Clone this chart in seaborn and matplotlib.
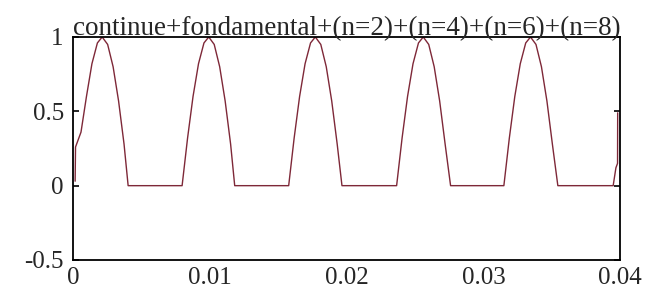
import numpy as np
import pandas as pd
import seaborn as sns
import matplotlib
matplotlib.use("Agg")
import matplotlib.pyplot as plt

# values
t = [0.00012, 0.00015, 0.00055, 0.00095, 0.00135, 0.00175, 0.00210, 0.00250, 0.00290, 0.00330, 0.00370, 0.00400,
     0.00795, 0.00835, 0.00875, 0.00915, 0.00955, 0.00990, 0.01030, 0.01070, 0.01110, 0.01150, 0.01180,
     0.01575, 0.01615, 0.01655, 0.01695, 0.01735, 0.01770, 0.01810, 0.01850, 0.01890, 0.01930, 0.01965,
     0.02365, 0.02405, 0.02445, 0.02485, 0.02525, 0.02560, 0.02600, 0.02640, 0.02680, 0.02720, 0.02760,
     0.03150, 0.03190, 0.03230, 0.03270, 0.03310, 0.03345, 0.03385, 0.03425, 0.03465, 0.03505, 0.03545,
     0.03950, 0.03970, 0.03982, 0.03983]
y = [0.03, 0.26, 0.36, 0.60, 0.82, 0.96, 1.00, 0.95, 0.80, 0.57, 0.28, 0.00,
     0.00, 0.32, 0.60, 0.82, 0.96, 1.00, 0.95, 0.80, 0.57, 0.28, 0.00,
     0.00, 0.32, 0.60, 0.82, 0.96, 1.00, 0.95, 0.80, 0.57, 0.28, 0.00,
     0.00, 0.32, 0.60, 0.82, 0.96, 1.00, 0.95, 0.80, 0.57, 0.28, 0.00,
     0.00, 0.32, 0.60, 0.82, 0.96, 1.00, 0.95, 0.80, 0.57, 0.28, 0.00,
     0.00, 0.12, 0.15, 0.49]

xticks = [0, 0.01, 0.02, 0.03, 0.04]
xlabels = ["0", "0.01", "0.02", "0.03", "0.04"]
yticks = [-0.5, 0, 0.5, 1]
ylabels = ["-0.5", "0", "0.5", "1"]
title = "continue+fondamental+(n=2)+(n=4)+(n=6)+(n=8)"

sns.set_style("white")
plt.rcParams['font.family'] = ['Liberation Serif', 'DejaVu Serif']

df = pd.DataFrame({"t": t, "y": y})

fig = plt.figure(figsize=(6.48, 2.92), dpi=100)
ax = fig.add_axes([0.1134, 0.1096, 0.8434, 0.7637])
sns.lineplot(data=df, x="t", y="y", ax=ax, color="#7e2838", linewidth=1.0,
             estimator=None, sort=False)

ax.set_xlim(0, 0.04)
ax.set_ylim(-0.5, 1)
ax.set_xticks(xticks)
ax.set_xticklabels(xlabels, fontsize=18)
ax.set_yticks(yticks)
ax.set_yticklabels(ylabels, fontsize=18)
ax.set_xlabel("")
ax.set_ylabel("")
ax.tick_params(axis="x", length=0, pad=5)
ax.tick_params(axis="y", direction="in", length=4, width=1.2, pad=7,
               left=True, right=True, color="black")
for s in ax.spines.values():
    s.set_color("black")
    s.set_linewidth(1.3)
ax.set_title(title, fontsize=19.5, pad=1)

fig.savefig("out.png", dpi=100)
